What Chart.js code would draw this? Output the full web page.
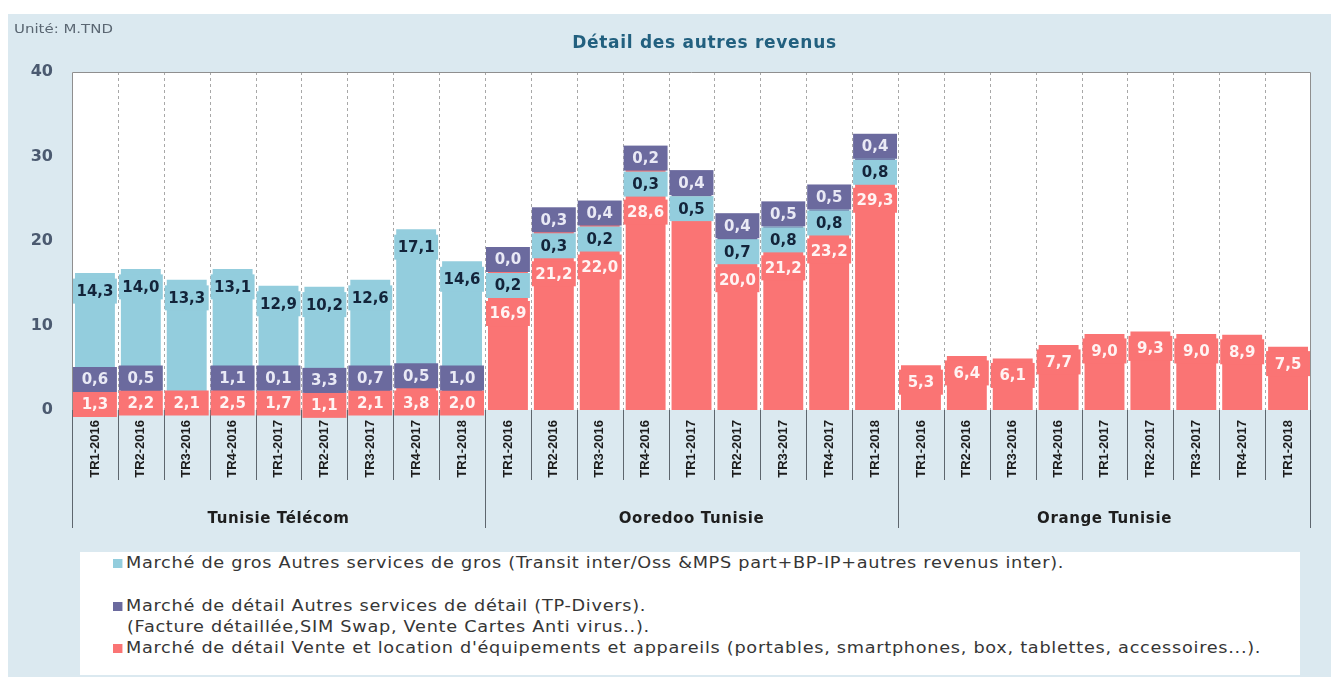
<!DOCTYPE html>
<html>
<head>
<meta charset="utf-8">
<script src="https://cdn.jsdelivr.net/npm/chart.js@4.4.1/dist/chart.umd.min.js"></script>
<style>
  html,body{margin:0;padding:0;background:#fff;}
  #wrap{position:relative;width:1331px;height:677px;overflow:hidden;}
  #c{position:absolute;left:0;top:0;}
  .txt{position:absolute;white-space:nowrap;font-family:"DejaVu Sans",sans-serif;}
  #unit{left:14px;top:21px;font-size:13px;color:#5a6672;transform:scaleX(1.15);transform-origin:left center;}
  #title{left:0;width:1409px;top:32px;text-align:center;font-size:17px;letter-spacing:0.7px;font-weight:bold;color:#22607f;}
  #legend{position:absolute;left:80px;top:552px;width:1220px;height:123px;background:#fff;}
  .li{position:absolute;left:33px;font-size:15px;color:#363636;letter-spacing:0.6px;line-height:18px;transform:scaleX(1.18);transform-origin:left center;}
  .sq{display:inline-block;width:8px;height:9px;margin-right:3px;vertical-align:0px;}
</style>
</head>
<body>
<div id="wrap">
  <canvas id="c" width="1331" height="677"></canvas>
  <div class="txt" id="unit">Unité: M.TND</div>
  <div class="txt" id="title">Détail des autres revenus</div>
  <div id="legend">
    <div class="txt li" style="top:2px"><span class="sq" style="background:#93cddd"></span>Marché de gros Autres services de gros (Transit inter/Oss &amp;MPS part+BP-IP+autres revenus inter).</div>
    <div class="txt li" style="top:45px"><span class="sq" style="background:#6b6a9e"></span>Marché de détail Autres services de détail (TP-Divers).</div>
    <div class="txt li" style="top:66px;left:47px">(Facture détaillée,SIM Swap, Vente Cartes Anti virus..).</div>
    <div class="txt li" style="top:87px"><span class="sq" style="background:#fa7474"></span>Marché de détail Vente et location d'équipements et appareils (portables, smartphones, box, tablettes, accessoires...).</div>
  </div>
</div>
<script>
// ---- data ----
const quarters = ["TR1-2016","TR2-2016","TR3-2016","TR4-2016","TR1-2017","TR2-2017","TR3-2017","TR4-2017","TR1-2018"];
const operators = ["Tunisie Télécom","Ooredoo Tunisie","Orange Tunisie"];
const categories = [].concat(quarters, quarters, quarters);
// Marché de détail Vente et location d'équipements (rouge)
const equipValues = [1.3,2.2,2.1,2.5,1.7,1.1,2.1,3.8,2.0,
                     16.9,21.2,22.0,28.6,25.3,20.0,21.2,23.2,29.3,
                     5.3,6.4,6.1,7.7,9.0,9.3,9.0,8.9,7.5];
// Marché de détail Autres services de détail (violet)
const detailValues = [0.6,0.5,null,1.1,0.1,3.3,0.7,0.5,1.0,
                      0.0,0.3,0.4,0.2,0.4,0.4,0.5,0.5,0.4,
                      null,null,null,null,null,null,null,null,null];
// Marché de gros Autres services de gros (bleu)
const grosValues = [14.3,14.0,13.3,13.1,12.9,10.2,12.6,17.1,14.6,
                    0.2,0.3,0.2,0.3,0.5,0.7,0.8,0.8,0.8,
                    null,null,null,null,null,null,null,null,null];
const yTicks = [0,10,20,30,40];
const hiddenEquipLabels = [13];

const RED='#fa7474', PURPLE='#6b6a9e', BLUE='#93cddd';
const fmt = v => v.toFixed(1).replace('.', ',');

const bgPlugin = {
  id:'bg',
  beforeDraw(chart){
    const ctx=chart.ctx, a=chart.chartArea;
    ctx.save();
    ctx.fillStyle='#ffffff'; ctx.fillRect(0,0,chart.width,chart.height);
    ctx.fillStyle='#dbe9f0'; ctx.fillRect(8,14,chart.width-8,chart.height-14);
    ctx.fillStyle='#ffffff'; ctx.fillRect(a.left,a.top,a.right-a.left,a.bottom-a.top);
    ctx.restore();
  },
  beforeDatasetsDraw(chart){
    const ctx=chart.ctx, a=chart.chartArea, n=categories.length;
    const w=(a.right-a.left)/n;
    ctx.save();
    ctx.strokeStyle='#a8a8a8'; ctx.lineWidth=1; ctx.setLineDash([3,3]);
    for(let k=1;k<n;k++){
      const x=Math.round(a.left+k*w)+0.5;
      ctx.beginPath(); ctx.moveTo(x,a.top); ctx.lineTo(x,a.bottom); ctx.stroke();
    }
    ctx.setLineDash([]);
    ctx.strokeStyle='#8f8f8f';
    ctx.beginPath();
    ctx.moveTo(a.left+0.5,a.bottom); ctx.lineTo(a.left+0.5,a.top+0.5);
    ctx.lineTo(a.right-0.5,a.top+0.5); ctx.lineTo(a.right-0.5,a.bottom);
    ctx.stroke();
    // axis-area separators
    ctx.strokeStyle='#5e666e';
    for(let k=0;k<=n;k++){
      const x=Math.round(a.left+k*w)+ (k===n?-0.5:0.5);
      const yEnd = (k%quarters.length===0) ? a.bottom+118 : a.bottom+70;
      ctx.beginPath(); ctx.moveTo(x,a.bottom); ctx.lineTo(x,yEnd); ctx.stroke();
    }
    // group labels
    ctx.fillStyle='#1e1e1e';
    ctx.font='bold 15px "DejaVu Sans"';
    if('letterSpacing' in ctx) ctx.letterSpacing='0.6px';
    ctx.textAlign='center'; ctx.textBaseline='middle';
    operators.forEach((op,g)=>{
      const cx=a.left+(g*quarters.length+quarters.length/2)*w;
      ctx.fillText(op,cx,a.bottom+109);
    });
    ctx.restore();
  },
  afterDatasetsDraw(chart){
    const ctx=chart.ctx;
    const mR=chart.getDatasetMeta(0), mP=chart.getDatasetMeta(1), mB=chart.getDatasetMeta(2);
    const zeroY=chart.scales.y.getPixelForValue(0);
    ctx.save();
    ctx.font='bold 15px "DejaVu Sans"';
    ctx.textAlign='center'; ctx.textBaseline='middle';
    const styles={
      red:{bg:RED,fg:'#fff3f3'},
      purple:{bg:PURPLE,fg:'#e9e9f5'},
      blue:{bg:BLUE,fg:'#13243a'}
    };
    for(let i=0;i<categories.length;i++){
      const r=mR.data[i], p=mP.data[i], b=mB.data[i];
      const hasP=detailValues[i]!=null, hasB=grosValues[i]!=null;
      const x=r.x, w=r.width+4;
      let top=r.y;
      if(hasP) top=Math.min(top,p.y);
      if(hasB) top=Math.min(top,b.y);
      const items=[];
      if(hasB && (b.base-b.y)>40){
        const rc=Math.max((r.y+r.base)/2, zeroY-7);
        items.push({v:equipValues[i],y:rc,s:'red'});
        if(hasP){
          const pc=Math.min((p.y+p.base)/2, rc-25);
          items.push({v:detailValues[i],y:pc,s:'purple'});
        }
        items.push({v:grosValues[i],y:b.y+18,s:'blue'});
      } else if(hasB){
        if(!hiddenEquipLabels.includes(i)) items.push({v:equipValues[i],y:top+48,s:'red'});
        items.push({v:grosValues[i],y:top+20,s:'blue'});
        if(hasP) items.push({v:detailValues[i],y:top-6,s:'purple'});
      } else {
        items.push({v:equipValues[i],y:top+17,s:'red'});
      }
      items.forEach(it=>{
        const st=styles[it.s];
        ctx.fillStyle=st.bg;
        ctx.fillRect(x-w/2,it.y-12.5,w,25);
        ctx.fillStyle=st.fg;
        ctx.fillText(fmt(it.v),x,it.y+1);
      });
    }
    ctx.restore();
  }
};

new Chart(document.getElementById('c'),{
  type:'bar',
  data:{
    labels:categories,
    datasets:[
      {label:"Marché de détail Vente et location d'équipements et appareils",data:equipValues,backgroundColor:RED,barPercentage:0.87,categoryPercentage:1},
      {label:"Marché de détail Autres services de détail",data:detailValues,backgroundColor:PURPLE,barPercentage:0.87,categoryPercentage:1},
      {label:"Marché de gros Autres services de gros",data:grosValues,backgroundColor:BLUE,barPercentage:0.87,categoryPercentage:1}
    ]
  },
  options:{
    responsive:false,
    animation:false,
    devicePixelRatio:1,
    layout:{padding:{left:8,top:72,right:20,bottom:147}},
    plugins:{legend:{display:false},tooltip:{enabled:false},title:{display:false}},
    scales:{
      x:{
        stacked:true,
        grid:{display:false,drawTicks:false},
        border:{display:false},
        ticks:{autoSkip:false,maxRotation:90,minRotation:90,padding:10,color:'#1c1c1c',font:{family:'Liberation Sans',weight:'bold',size:13}},
        afterFit(s){s.height=120;}
      },
      y:{
        stacked:true,min:0,max:40,
        grid:{display:false,drawTicks:false},
        border:{display:false},
        afterBuildTicks(s){s.ticks=yTicks.map(v=>({value:v}));},
        ticks:{padding:19,color:'#4b5a70',font:{family:'DejaVu Sans',weight:'bold',size:16}},
        afterFit(s){s.width=64;}
      }
    }
  },
  plugins:[bgPlugin]
});
</script>
</body>
</html>
